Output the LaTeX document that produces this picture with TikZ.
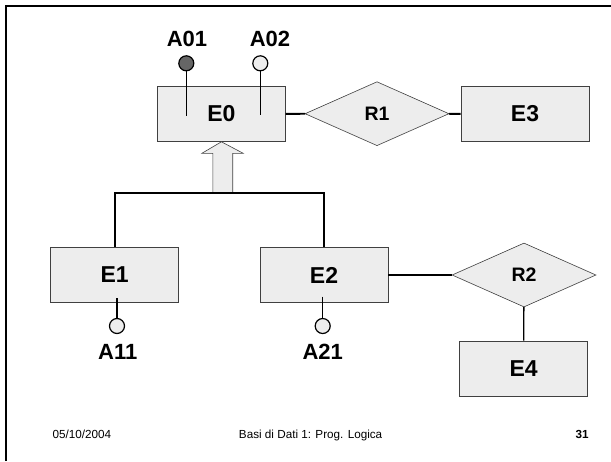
\documentclass[tikz,border=0pt]{standalone}
\usepackage{fontspec}
\setmainfont{Liberation Sans}
\usetikzlibrary{shapes.geometric,positioning}

\begin{document}
\begin{tikzpicture}[
  x=1pt, y=-1pt,
  entity/.style={draw=black!75, fill=black!7, line width=0.6pt, minimum width=128pt, minimum height=55pt, inner sep=0pt, font=\fontsize{23}{26}\selectfont\bfseries},
  relation/.style={diamond, draw=black!75, fill=black!7, line width=0.6pt, minimum width=144pt, minimum height=64pt, inner sep=0pt, font=\fontsize{19.5}{22}\selectfont\bfseries},
  attr/.style={circle, draw=black, line width=1.2pt, fill=black!7, minimum size=15pt, inner sep=0pt},
  keyattr/.style={attr, fill=black!60},
  attrname/.style={inner sep=0pt, font=\fontsize{22}{25}\selectfont\bfseries},
  link/.style={line width=1.8pt},
  attrlink/.style={line width=1.3pt},
  isaarrow/.style={draw=black!75, fill=black!7, line width=0.6pt},
  footer/.style={inner sep=0pt, anchor=base, font=\fontsize{11.7}{14}\selectfont}
]
\useasboundingbox (0,0) rectangle (611,461);
% slide frame
\draw[line width=2.5pt] (5.8,461) -- (5.8,5.8) -- (611,5.8);

% entities and relationships
\node[entity] (E0) at (221.4,114) {E0};
\node[relation] (R1) at (377,113.7) {R1};
\node[entity] (E3) at (525,114) {E3};
\node[entity] (E1) at (114.6,274.7) {E1};
\node[entity] (E2) at (324,275) {E2};
\node[relation] (R2) at (524,275) {R2};
\node[entity] (E4) at (523.6,368.5) {E4};

% attributes
\node[keyattr] (A01) at (186.3,63.3) {};
\node[attr] (A02) at (260.3,63.3) {};
\node[attr] (A11) at (117,326) {};
\node[attr] (A21) at (322.7,326) {};
\node[attrname] (A01l) at (187,39) {A01};
\node[attrname] (A02l) at (270,39) {A02};
\node[attrname] (A11l) at (117.7,352.3) {A11};
\node[attrname] (A21l) at (322.7,352.3) {A21};
\coordinate (A01end) at (186.3,116);
\coordinate (A02end) at (260.3,115);
\coordinate (A11end) at (117,298);
\coordinate (A21end) at (322.7,296.7);
\draw[attrlink] (A01) -- (A01end);
\draw[attrlink] (A02) -- (A02end);
\draw[attrlink] (A11end) -- (A11);
\draw[attrlink] (A21end) -- (A21);

% generalization
\coordinate (isa) at (222.5,192.7);
\draw[isaarrow] (212.8,192.7) -- (212.8,153.3) -- (201.9,153.3) -- (E0.south)
  -- (243.2,153.3) -- (232.7,153.3) -- (232.7,192.7) -- cycle;
\draw[link] (E1.north) |- (isa) -| (E2.north);

% relationship links
\draw[link] (E0) -- (R1);
\draw[link] (R1) -- (E3);
\draw[link] (E2) -- (R2);
\draw[attrlink] (R2) -- (E4);

% footer
\node[footer] (date) at (81.8,438.5) {05/10/2004};
\node[footer] (title) at (310.6,438.5) {Basi di Dati 1: Prog. Logica};
\node[footer, font=\fontsize{11.7}{14}\selectfont\bfseries] (page) at (582.2,438.5) {31};
\end{tikzpicture}
\end{document}
